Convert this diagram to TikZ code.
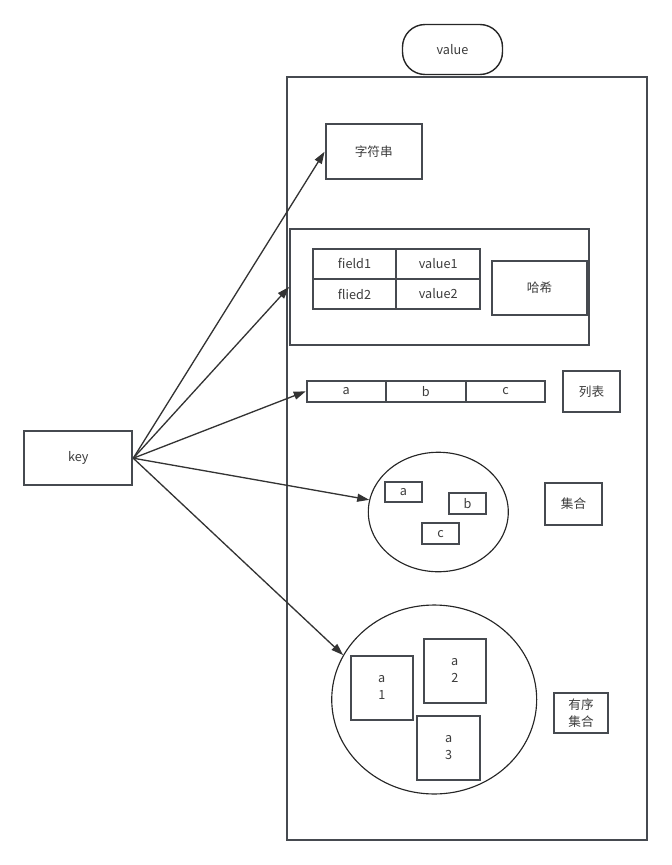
\documentclass[tikz,border=0pt]{standalone}
\usepackage{fontspec}
\setmainfont{Noto Sans CJK SC}
\usetikzlibrary{arrows.meta,shapes.geometric}
\definecolor{boxline}{RGB}{70,74,80}
\definecolor{txtgray}{RGB}{60,60,60}
\tikzset{
  box/.style={draw=boxline,line width=1.1pt,text=txtgray,inner sep=0pt,align=center,
    font=\fontsize{7.2}{9.5}\selectfont},
  ring/.style={draw=black!85,line width=0.65pt,ellipse,inner sep=0pt},
  link/.style={draw=black!80,line width=0.75pt,-{Triangle[length=0.24cm,width=0.16cm]}}
}
\begin{document}
\begin{tikzpicture}[x=0.02cm,y=-0.02cm]
  \useasboundingbox (0,0) rectangle (672,865);
  \node[box,line width=0.8pt,draw=black!85,rounded corners=0.45cm,minimum width=2cm,minimum height=1cm] (valuetag) at (452.5,49.5) {value};
  \node[box,minimum width=7.2cm,minimum height=15.26cm] (valframe) at (467,458.5) {};
  \node[box,minimum width=1.93cm,minimum height=1.09cm] (strbox) at (373.8,151.7) {字符串};
  \node[box,minimum width=5.98cm,minimum height=2.32cm] (hashbox) at (439.5,287) {};
  \node[box,minimum width=1.67cm,minimum height=0.61cm] (field1) at (354.5,263.8) {field1};
  \node[box,minimum width=1.67cm,minimum height=0.61cm] (value1) at (438.2,263.8) {value1};
  \node[box,minimum width=1.67cm,minimum height=0.6cm] (field2) at (354.5,294) {flied2};
  \node[box,minimum width=1.67cm,minimum height=0.6cm] (value2) at (438.2,294) {value2};
  \node[box,minimum width=1.91cm,minimum height=1.08cm] (hashlabel) at (539.5,288) {哈希};
  \node[box,minimum width=1.58cm,minimum height=0.43cm] (lista) at (346.2,391.3) {a};
  \node[box,minimum width=1.6cm,minimum height=0.43cm] (listb) at (425.7,391.3) {b};
  \node[box,minimum width=1.59cm,minimum height=0.43cm] (listc) at (505.5,391.3) {c};
  \node[box,minimum width=1.15cm,minimum height=0.83cm] (listlabel) at (591.5,391.3) {列表};
  \node[ring,minimum width=2.8cm,minimum height=2.39cm] (setring) at (438.3,512) {};
  \node[box,minimum width=0.75cm,minimum height=0.41cm] (seta) at (403.5,491.8) {a};
  \node[box,minimum width=0.75cm,minimum height=0.41cm] (setb) at (467.5,503.7) {b};
  \node[box,minimum width=0.75cm,minimum height=0.41cm] (setc) at (440.5,533.7) {c};
  \node[box,minimum width=1.15cm,minimum height=0.83cm] (setlabel) at (573.5,503.8) {集合};
  \node[ring,minimum width=4.1cm,minimum height=3.78cm] (ordring) at (434.2,699.5) {};
  \node[box,minimum width=1.25cm,minimum height=1.29cm] (orda1) at (381.8,687.8) {a\\1};
  \node[box,minimum width=1.25cm,minimum height=1.27cm] (orda2) at (454.8,670.8) {a\\2};
  \node[box,minimum width=1.25cm,minimum height=1.29cm] (orda3) at (448.7,747.8) {a\\3};
  \node[box,minimum width=1.08cm,minimum height=0.81cm] (ordlabel) at (581,713) {有序\\集合};
  \node[box,minimum width=2.16cm,minimum height=1.09cm] (keybox) at (78.3,458.2) {key};
  \draw[link] (keybox.east) -- (strbox.west);
  \draw[link] (keybox.east) -- (hashbox.west);
  \draw[link] (keybox.east) -- (lista.west);
  \draw[link] (keybox.east) -- (setring.170);
  \draw[link] (keybox.east) -- (ordring.154);
\end{tikzpicture}
\end{document}
